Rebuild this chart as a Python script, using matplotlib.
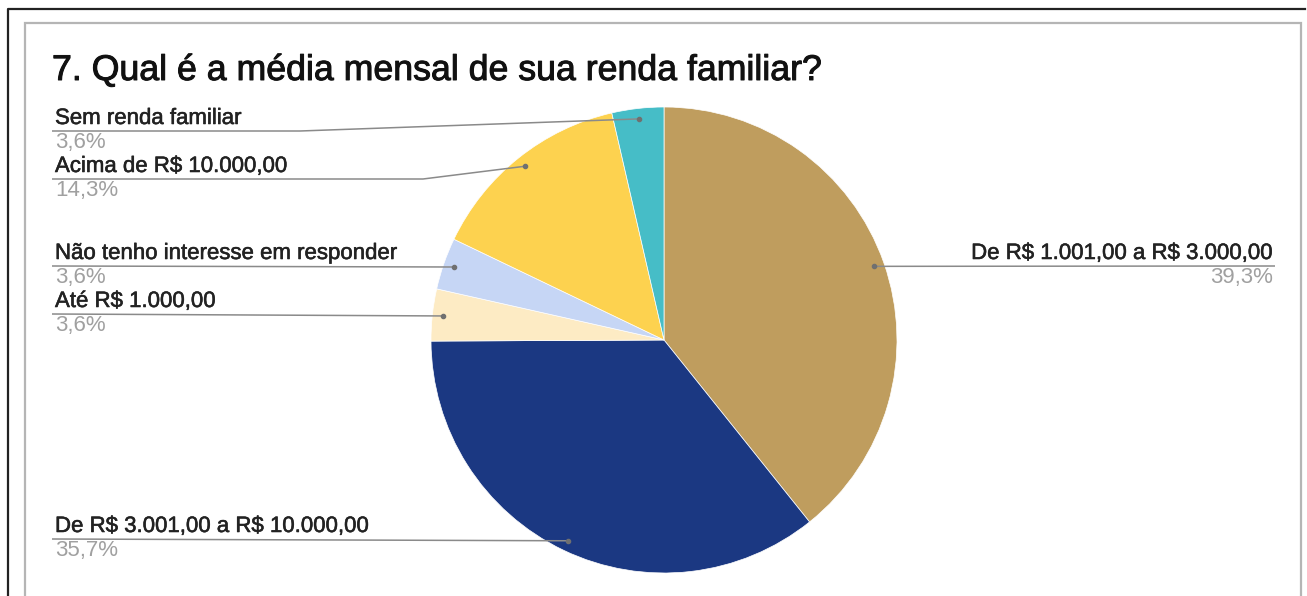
import numpy as np
import matplotlib
matplotlib.use('Agg')
import matplotlib.pyplot as plt
import matplotlib.patheffects as pe
from matplotlib.patches import Rectangle

# data
title = '7. Qual é a média mensal de sua renda familiar?'
labels = ['De R$ 1.001,00 a R$ 3.000,00', 'De R$ 3.001,00 a R$ 10.000,00',
          'Até R$ 1.000,00', 'Não tenho interesse em responder',
          'Acima de R$ 10.000,00', 'Sem renda familiar']
values = [39.3, 35.7, 3.6, 3.6, 14.3, 3.6]
pct_labels = ['39,3%', '35,7%', '3,6%', '3,6%', '14,3%', '3,6%']
colors = ['#BF9D5E', '#1B3882', '#FDEBC4', '#C6D6F5', '#FDD24F', '#46BDC7']

# layout (pixel coords, y measured from top of image)
W, H = 1307, 596
cx, cy, R = 664, 340, 233
line_y = [266, 539, 314, 266, 179, 131]
side = ['right', 'left', 'left', 'left', 'left', 'left']
bend_x = [None, None, None, None, 423, 300]

plt.rcParams['font.family'] = ['Liberation Sans', 'DejaVu Sans']
plt.rcParams['text.parse_math'] = False

fig = plt.figure(figsize=(W / 100, H / 100), dpi=100)
fig.patch.set_facecolor('white')
ax = fig.add_axes([0, 0, 1, 1])

wedges, _ = ax.pie(values, colors=colors, startangle=90, counterclock=False,
                   center=(cx, H - cy), radius=R, frame=True,
                   wedgeprops=dict(edgecolor='white', linewidth=0.5))
ax.set_xlim(0, W)
ax.set_ylim(0, H)
ax.set_aspect('equal')
ax.axis('off')

# frames
ax.plot([8, 8, 1305], [0, H - 9, H - 9], color='#222222', lw=1.6, clip_on=False)
ax.add_patch(Rectangle((25, -10), 1301 - 25, H - 23 + 10, fill=False,
                       edgecolor='#b5b5b5', lw=1.6))

bold_ish = [pe.withStroke(linewidth=0.7, foreground='#111111')]
ax.text(52, H - 80, title, fontsize=25.7, color='#111111', ha='left', va='baseline',
        path_effects=bold_ish)

for w, lab, pct, ly, sd, bx in zip(wedges, labels, pct_labels, line_y, side, bend_x):
    ang = np.deg2rad((w.theta1 + w.theta2) / 2)
    ex = cx + 0.955 * R * np.cos(ang)
    ey = (H - cy) + 0.955 * R * np.sin(ang)
    y = H - ly
    if sd == 'left':
        xs = [52] + ([bx] if bx else []) + [ex]
        ys = [y] + ([y] if bx else []) + [ey]
        tx, ha = 55, 'left'
    else:
        xs = [ex, 1275]
        ys = [ey, y]
        tx, ha = 1273, 'right'
    ax.plot(xs, ys, color='#8a8a8a', lw=1.1, solid_capstyle='butt')
    ax.plot([ex], [ey], 'o', color='#707070', ms=3)
    ax.text(tx, y + 7, lab, fontsize=16, color='#222222', ha=ha, va='baseline',
            path_effects=[pe.withStroke(linewidth=0.4, foreground='#222222')])
    ax.text(tx, y - 17, pct, fontsize=16, color='#a0a0a0', ha=ha, va='baseline')

fig.savefig('out.png', dpi=100, facecolor='white')
